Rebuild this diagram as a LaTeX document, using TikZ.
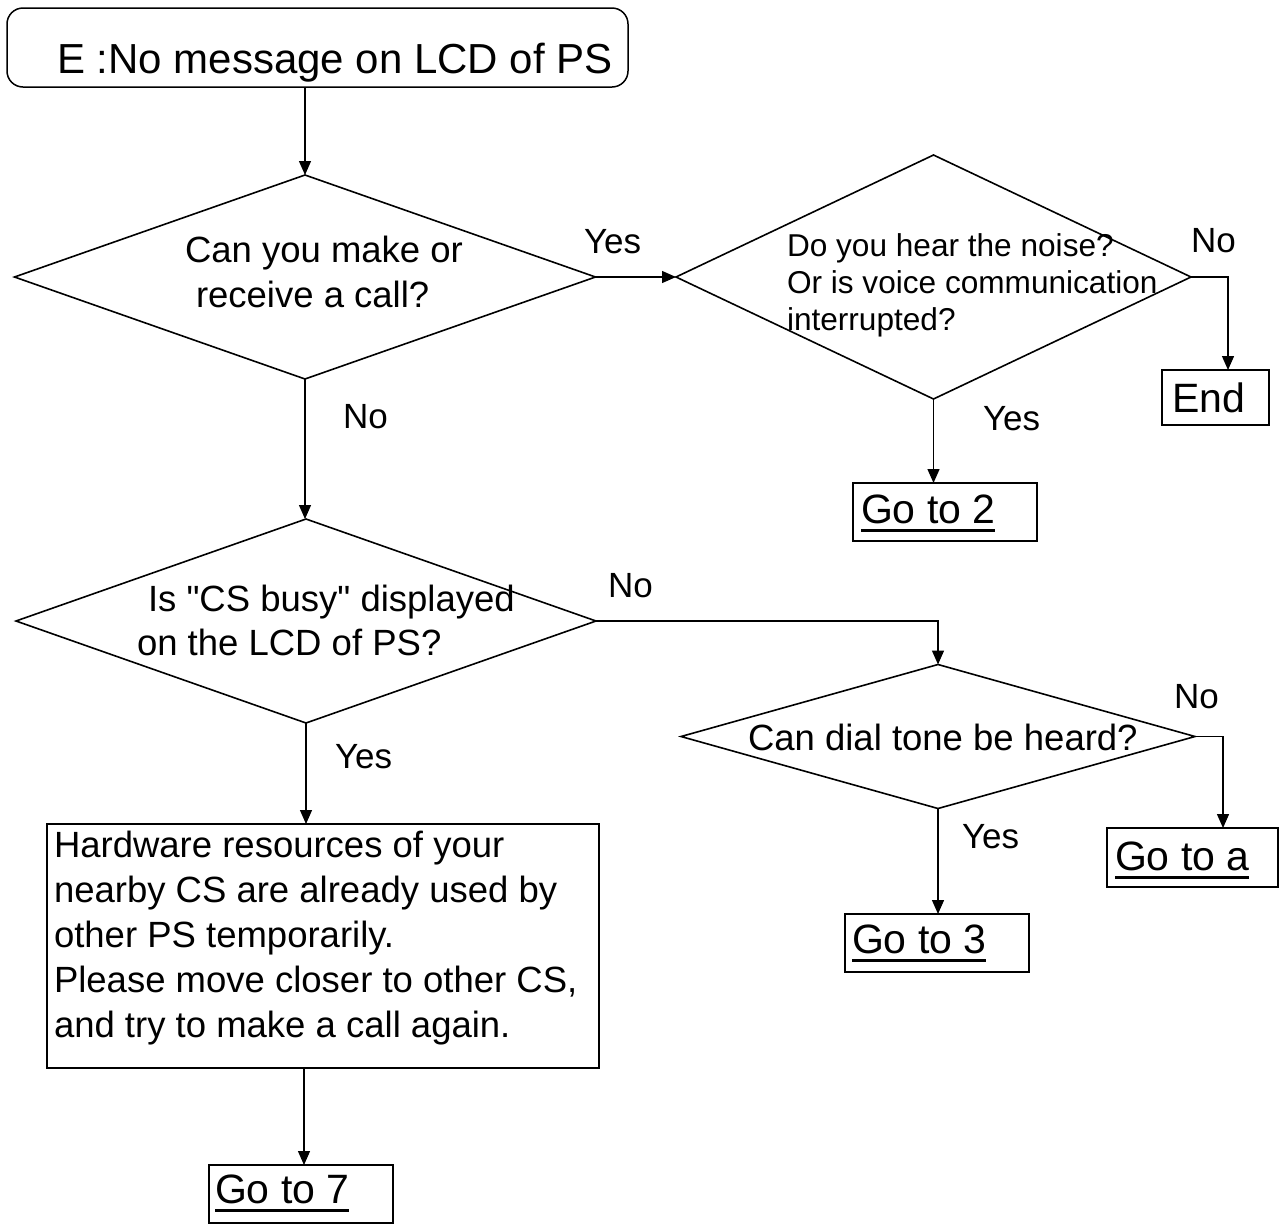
\documentclass[tikz,border=0pt]{standalone}
\usepackage{fontspec}
\setmainfont{Liberation Sans}[Ligatures=TeXOff]
\usetikzlibrary{shapes.geometric,arrows.meta}

% heavy underline for the "Go to" targets
\newcommand\gotoline[1]{\setbox0\hbox{#1}\rlap{\rule[-8.5pt]{\wd0}{2.8pt}}\box0}

\begin{document}
\begin{tikzpicture}[x=1pt,y=-1pt,
  every node/.style={inner sep=0pt,outer sep=0pt},
  decision/.style={diamond,draw,line width=1.6pt,minimum width=#1},
  box/.style={rectangle,draw,line width=1.5pt},
  flow/.style={line width=1.3pt,-{Triangle[length=14pt,width=12pt]}},
  qtext/.style={anchor=base west,font=\fontsize{36.5}{44}\selectfont},
  smalltext/.style={anchor=base west,font=\fontsize{31.6}{38}\selectfont},
  lbl/.style={anchor=base west,font=\fontsize{35}{42}\selectfont},
  goto/.style={anchor=base west,font=\fontsize{41}{48}\selectfont},
]
\useasboundingbox (0,0) rectangle (1279,1224);

% start box
\node[box,rounded corners=16pt,minimum width=621pt,minimum height=79pt] (start) at (317.5,47.5) {};
\node[anchor=base west,font=\fontsize{42}{50}\selectfont] (starttxt) at (57,73) {E :No message on LCD of PS};

% decisions
\node[decision=581pt,minimum height=204pt] (d1) at (305,277) {};
\node[qtext] (d1a) at (185,262) {Can you make or};
\node[qtext] (d1b) at (196,307) {receive a call?};

\node[decision=515pt,minimum height=244pt] (d2) at (933.5,277) {};
\node[smalltext] (d2a) at (787,256) {Do you hear the noise?};
\node[smalltext] (d2b) at (787,293) {Or is voice communication};
\node[smalltext] (d2c) at (787,330) {interrupted?};

\node[decision=580pt,minimum height=204pt] (d3) at (306,621) {};
\node[qtext] (d3a) at (148,611) {Is "CS busy" displayed};
\node[qtext] (d3b) at (137,655) {on the LCD of PS?};

\node[decision=514pt,minimum height=144pt] (d4) at (938,736.5) {};
\node[qtext] (d4a) at (748,750) {Can dial tone be heard?};

% result boxes
\node[box,minimum width=107pt,minimum height=55pt] (endb) at (1215.5,397.5) {};
\node[goto] (endtxt) at (1172,412) {End};

\node[box,minimum width=184pt,minimum height=58pt] (go2) at (945,512) {};
\node[goto] (go2txt) at (861,523) {\gotoline{Go to 2}};

\node[box,minimum width=184pt,minimum height=58pt] (go3) at (937,943) {};
\node[goto] (go3txt) at (852,953) {\gotoline{Go to 3}};

\node[box,minimum width=171pt,minimum height=59pt] (goa) at (1192.5,857.5) {};
\node[goto] (goatxt) at (1115,870) {\gotoline{Go to a}};

\node[box,minimum width=552pt,minimum height=244pt] (hw) at (323,946) {};
\node[qtext] (hw1) at (54,857) {Hardware resources of your};
\node[qtext] (hw2) at (54,902) {nearby CS are already used by};
\node[qtext] (hw3) at (54,947) {other PS temporarily.};
\node[qtext] (hw4) at (54,992) {Please move closer to other CS,};
\node[qtext] (hw5) at (54,1037) {and try to make a call again.};

\node[box,minimum width=184pt,minimum height=58pt] (go7) at (301,1194) {};
\node[goto] (go7txt) at (215,1203) {\gotoline{Go to 7}};

% connectors
\draw[flow] (d1.north |- start.south) -- (d1.north);
\draw[flow] (d1.east) -- (d2.west);
\draw[flow] (d1.south) -- (d1.south |- d3.north);
\draw[flow] (d2.east) -| ([xshift=12.5pt]endb.north);
\draw[flow] (d2.south) -- (d2.south |- go2.north);
\draw[flow] (d3.east) -| (d4.north);
\draw[flow] (d3.south) -- (d3.south |- hw.north);
\draw[flow] (d4.east) -| ([xshift=30.5pt]goa.north);
\draw[flow] (d4.south) -- (d4.south |- go3.north);
\draw[flow] ([xshift=3pt]go7.north |- hw.south) -- ([xshift=3pt]go7.north);

% branch labels
\node[lbl] (y1) at (584,253) {Yes};
\node[lbl] (n1) at (343,428) {No};
\node[lbl] (n2) at (1191,252) {No};
\node[lbl] (y2) at (983,430) {Yes};
\node[lbl] (n3) at (608,597) {No};
\node[lbl] (y3) at (335,768) {Yes};
\node[lbl] (n4) at (1174,708) {No};
\node[lbl] (y4) at (962,848) {Yes};
\end{tikzpicture}
\end{document}
